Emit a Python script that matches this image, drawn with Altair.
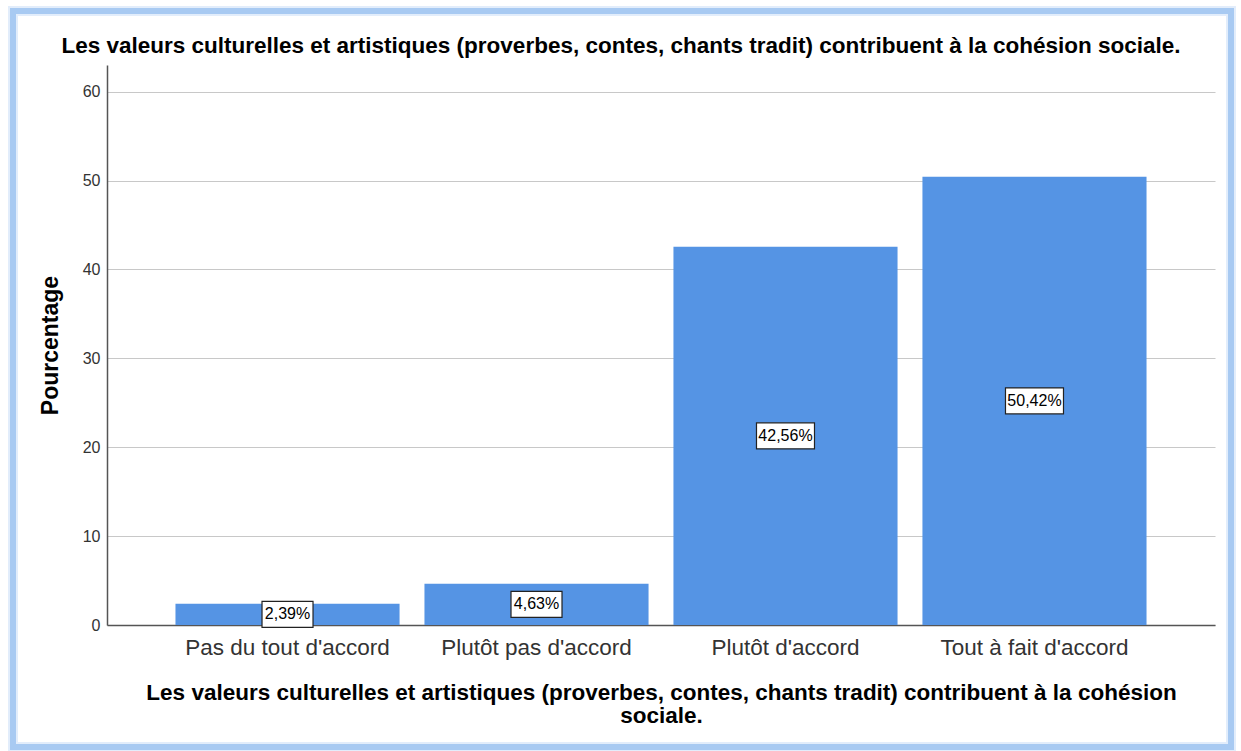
import altair as alt
import pandas as pd

# Survey responses: share of respondents per answer (%)
categories = [
    "Pas du tout d'accord",
    "Plutôt pas d'accord",
    "Plutôt d'accord",
    "Tout à fait d'accord",
]
percentages = [2.39, 4.63, 42.56, 50.42]
y_ticks = [0, 10, 20, 30, 40, 50, 60]

question = ("Les valeurs culturelles et artistiques (proverbes, contes, chants tradit) "
            "contribuent à la cohésion sociale.")
x_title_lines = [
    "Les valeurs culturelles et artistiques (proverbes, contes, chants tradit) contribuent à la cohésion",
    "sociale.",
]

df = pd.DataFrame({
    "reponse": categories,
    "pct": percentages,
    "label": [f"{v:.2f}".replace(".", ",") + "%" for v in percentages],
})
df["mid"] = df["pct"] / 2

FONT = "Liberation Sans"
BAR = "#5594E4"

x_enc = alt.X(
    "reponse:N",
    sort=categories,
    scale=alt.Scale(paddingInner=0.1, paddingOuter=0.275),
    axis=alt.Axis(
        title=x_title_lines,
        titleFont=FONT, titleFontSize=22.5, titleFontWeight="bold", titleColor="#000000",
        titleLineHeight=23, titlePadding=23,
        labelFont=FONT, labelFontSize=22.5, labelColor="#333333", labelAngle=0,
        labelPadding=11, labelLimit=0,
        ticks=False, domainColor="#555555", domainWidth=1.5, grid=False,
    ),
)

y_scale = alt.Scale(domain=[0, 63], nice=False)

base = alt.Chart(df)

bars = base.mark_bar(color=BAR).encode(
    x=x_enc,
    y=alt.Y(
        "pct:Q",
        scale=y_scale,
        axis=alt.Axis(
            title="Pourcentage",
            titleFont=FONT, titleFontSize=23, titleFontWeight="bold", titleColor="#000000",
            titlePadding=20,
            values=y_ticks, labelFont=FONT, labelFontSize=16, labelColor="#333333",
            labelPadding=7, ticks=False,
            domainColor="#555555", domainWidth=1.5,
            grid=True, gridColor="#C8C8C8", gridWidth=1.2,
        ),
    ),
)

box_style = dict(fill="white", stroke="#222222", strokeWidth=1.2, yOffset=-13, y2Offset=13)

boxes_short = base.transform_filter("length(datum.label) <= 5").mark_bar(
    width=51, **box_style
).encode(
    x=alt.X("reponse:N", sort=categories),
    y=alt.Y("mid:Q", scale=y_scale),
    y2="mid:Q",
)

boxes_long = base.transform_filter("length(datum.label) > 5").mark_bar(
    width=58, **box_style
).encode(
    x=alt.X("reponse:N", sort=categories),
    y=alt.Y("mid:Q", scale=y_scale),
    y2="mid:Q",
)

texts = base.mark_text(font=FONT, fontSize=16, color="#000000", baseline="middle").encode(
    x=alt.X("reponse:N", sort=categories),
    y=alt.Y("mid:Q", scale=y_scale),
    text="label:N",
)

# light blue frame around the whole figure
glow = alt.Chart(df).mark_rect(fillOpacity=0, stroke="#E2EDFB", strokeWidth=10).encode(
    x=alt.value(-94), x2=alt.value(1124), y=alt.value(-54), y2=alt.value(682)
)
frame = alt.Chart(df).mark_rect(fillOpacity=0, stroke="#A8CAF2", strokeWidth=6).encode(
    x=alt.value(-94), x2=alt.value(1124), y=alt.value(-54), y2=alt.value(682)
)

chart = alt.layer(glow, frame, bars, boxes_short, boxes_long, texts).properties(
    width=1108,
    height=560,
    title=alt.TitleParams(
        question, font=FONT, fontSize=22.5, fontWeight="bold", color="#000000",
        anchor="middle", frame="group", offset=0, baseline="alphabetic", dx=-40, dy=69,
    ),
    autosize=alt.AutoSizeParams(type="none"),
    padding={"left": 107, "top": 65, "right": 26, "bottom": 126},
    background="white",
).configure_view(stroke=None)

chart.save("out.html", embed_options={"renderer": "svg", "actions": False})
